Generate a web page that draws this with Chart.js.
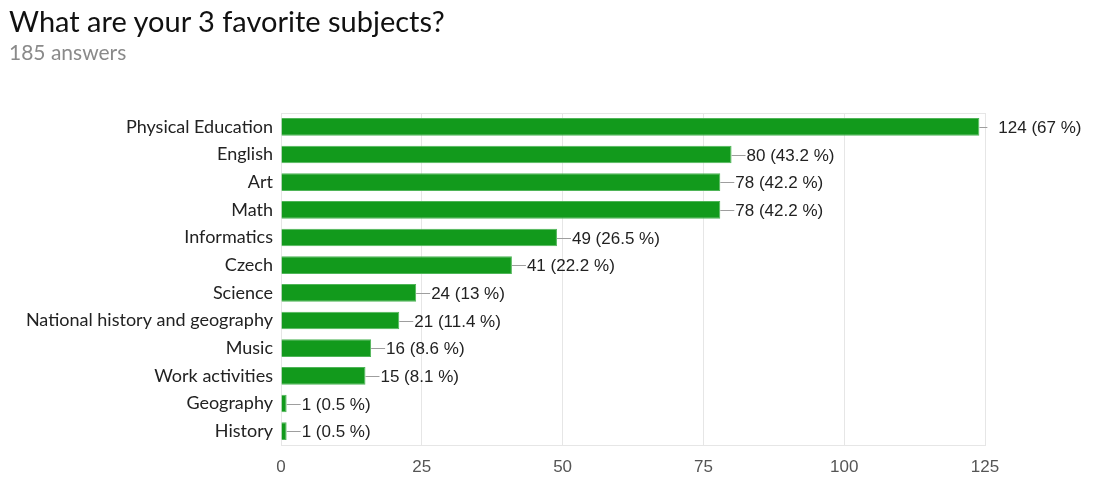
<!DOCTYPE html>
<html>
<head>
<meta charset="utf-8">
<script src="https://cdn.jsdelivr.net/npm/chart.js@4.4.1/dist/chart.umd.min.js"></script>
<style>
  body { margin: 0; background: #fff; }
  #wrap { position: relative; width: 1098px; height: 479px; }
  #titulo { position: absolute; left: 9px; top: 3px; font: 29px Lato, "Open Sans", sans-serif; color: #111; }
  #sub { position: absolute; left: 9px; top: 39px; font: 21px Lato, "Open Sans", sans-serif; color: #8a8a8a; }
  canvas { position: absolute; left: 0; top: 0; }
</style>
</head>
<body>
<div id="wrap">
  <canvas id="grafico" width="1098" height="479"></canvas>
  <div id="titulo">What are your 3 favorite subjects?</div>
  <div id="sub">185 answers</div>
</div>
<script>
// dados
const materias = ['Physical Education', 'English', 'Art', 'Math', 'Informatics', 'Czech', 'Science',
    'National history and geography', 'Music', 'Work activities', 'Geography', 'History']
const respostas = [124, 80, 78, 78, 49, 41, 24, 21, 16, 15, 1, 1]
const porcentagens = ['67', '43.2', '42.2', '42.2', '26.5', '22.2', '13', '11.4', '8.6', '8.1', '0.5', '0.5']
const ticksX = [0, 25, 50, 75, 100, 125]

// moldura da area do grafico
const moldura = {
    id: 'moldura',
    beforeDatasetsDraw(chart) {
        const { ctx, chartArea: a } = chart
        ctx.save()
        ctx.strokeStyle = '#e6e6e6'
        ctx.lineWidth = 1
        ctx.strokeRect(a.left + 0.5, a.top + 0.5, a.right - a.left, a.bottom - a.top)
        ctx.restore()
    }
}

// rotulos com linha de chamada
const rotulos = {
    id: 'rotulos',
    afterDatasetsDraw(chart) {
        const { ctx } = chart
        const meta = chart.getDatasetMeta(0)
        ctx.save()
        ctx.font = '17px "Liberation Sans", Arial, sans-serif'
        ctx.textBaseline = 'middle'
        meta.data.forEach((bar, i) => {
            const x = bar.x
            const y = Math.round(bar.y) + 0.5
            ctx.strokeStyle = '#9e9e9e'
            ctx.lineWidth = 1
            ctx.beginPath()
            ctx.moveTo(x, y)
            ctx.lineTo(x + (i === 0 ? 8 : 14), y)
            ctx.stroke()
            ctx.fillStyle = '#222'
            const tx = i === 0 ? x + 19 : x + 15
            ctx.fillText(respostas[i] + ' (' + porcentagens[i] + ' %)', tx, y + 1)
        })
        ctx.restore()
    }
}

new Chart(document.getElementById('grafico'), {
    type: 'bar',
    data: {
        labels: materias,
        datasets: [{
            data: respostas,
            backgroundColor: '#129a1c',
            borderColor: '#4fb558',
            borderWidth: 1,
            borderSkipped: 'left',
            barPercentage: 0.64,
            categoryPercentage: 1
        }]
    },
    options: {
        indexAxis: 'y',
        responsive: false,
        animation: false,
        layout: { padding: { top: 113, right: 113, left: 0, bottom: 0 } },
        plugins: {
            legend: { display: false },
            tooltip: { enabled: false }
        },
        scales: {
            x: {
                min: 0,
                max: 125,
                afterBuildTicks(scale) { scale.ticks = ticksX.map(v => ({ value: v })) },
                afterFit(scale) { scale.height = 34 },
                grid: { color: '#e6e6e6', drawTicks: false },
                border: { display: false },
                ticks: {
                    color: '#555',
                    padding: 12,
                    font: { family: '"Liberation Sans", Arial, sans-serif', size: 17 }
                }
            },
            y: {
                afterFit(scale) { scale.width = 281 },
                grid: { display: false },
                border: { display: true, color: '#444', width: 1 },
                ticks: {
                    color: '#222',
                    padding: 0,
                    font: { family: 'Lato, "Open Sans", sans-serif', size: 18 }
                }
            }
        }
    },
    plugins: [moldura, rotulos]
})
</script>
</body>
</html>
